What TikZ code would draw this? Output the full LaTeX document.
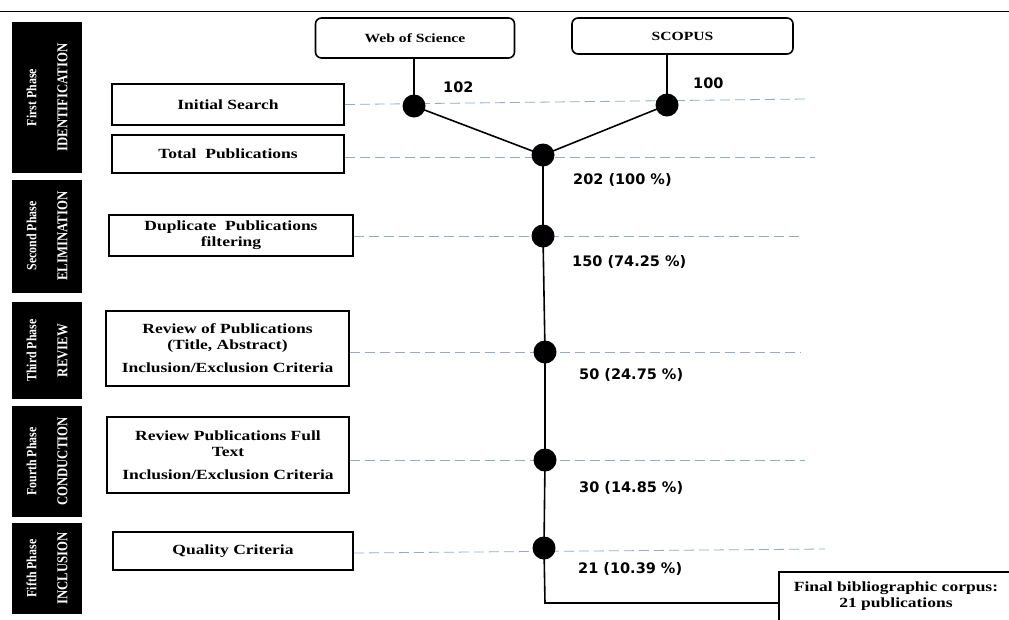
\documentclass[tikz,border=0pt]{standalone}
\usepackage{fontspec}
\setmainfont{Liberation Serif}
\newfontfamily\tb[FakeStretch=1.25]{Liberation Serif}
\newfontfamily\ph[FakeStretch=0.85]{Liberation Serif}
\newfontfamily\nf{DejaVu Sans}
\definecolor{dashcol}{RGB}{150,170,195}
\begin{document}
\begin{tikzpicture}[x=1pt,y=-1pt,
  lbox/.style={draw, line width=1.6pt, inner sep=0pt, font=\tb\bfseries\fontsize{14}{18}\selectfont, align=center},
  dbox/.style={draw, line width=1.6pt, rounded corners=6pt, inner sep=0pt, font=\tb\bfseries\fontsize{12.5}{15}\selectfont},
  pbox/.style={fill=black, inner sep=0pt, minimum width=70pt},
  ptxt/.style={text=white, rotate=90, inner sep=0pt, font=\ph\bfseries\fontsize{14}{16}\selectfont},
  ptxtb/.style={text=white, rotate=90, inner sep=0pt, font=\ph\bfseries\fontsize{15}{17}\selectfont},
  dot/.style={circle, fill=black, inner sep=0pt, minimum size=23pt},
  num/.style={anchor=west, inner sep=0pt, font=\nf\bfseries\fontsize{14.5}{17}\selectfont},
  conn/.style={line width=1.6pt},
  dsh/.style={dashcol, line width=0.8pt, dash pattern=on 10pt off 5pt}]
\clip (0,0) rectangle (1009,619);
\fill[white] (0,0) rectangle (1009,619);
\useasboundingbox (0,0) rectangle (1009,619);
% top rule
\coordinate (tl) at (0,11);
\coordinate (tr) at (1009,11);
\draw[line width=1pt] (tl) -- (tr);
% phase boxes
\node[pbox, minimum height=151pt] (p1) at (47,97.5) {};
\node[pbox, minimum height=113pt] (p2) at (47,236) {};
\node[pbox, minimum height=97pt] (p3) at (47,350.5) {};
\node[pbox, minimum height=111pt] (p4) at (47,461.5) {};
\node[pbox, minimum height=91pt] (p5) at (47,568.5) {};
\node[ptxt] (p1a) at ([xshift=-15.5pt]p1.center) {First Phase};
\node[ptxtb] (p1b) at ([xshift=15.5pt]p1.center) {IDENTIFICATION};
\node[ptxt] (p2a) at ([xshift=-15.5pt]p2.center) {Second Phase};
\node[ptxtb] (p2b) at ([xshift=15.5pt]p2.center) {ELIMINATION};
\node[ptxt] (p3a) at ([xshift=-15.5pt]p3.center) {Third Phase};
\node[ptxtb] (p3b) at ([xshift=15.5pt]p3.center) {REVIEW};
\node[ptxt] (p4a) at ([xshift=-15.5pt]p4.center) {Fourth Phase};
\node[ptxtb] (p4b) at ([xshift=15.5pt]p4.center) {CONDUCTION};
\node[ptxt] (p5a) at ([xshift=-15.5pt]p5.center) {Fifth Phase};
\node[ptxtb] (p5b) at ([xshift=15.5pt]p5.center) {INCLUSION};
% left boxes
\node[lbox, minimum width=232pt, minimum height=41pt] (s1) at (228,104.5) {Initial Search};
\node[lbox, minimum width=232pt, minimum height=38pt] (s2) at (228,154) {Total\ \ Publications};
\node[lbox, minimum width=244pt, minimum height=41pt] (s3) at (231,235.5) {Duplicate\ \ Publications\\[-2pt]filtering};
\node[lbox, minimum width=243pt, minimum height=75pt] (s4) at (227.5,348.5) {Review of Publications\\[-2pt](Title, Abstract)\\[5pt]Inclusion/Exclusion Criteria};
\node[lbox, minimum width=242pt, minimum height=76pt] (s5) at (228,455) {Review Publications Full\\[-2pt]Text\\[5pt]Inclusion/Exclusion Criteria};
\node[lbox, minimum width=240pt, minimum height=38pt] (s6) at (233,551) {Quality Criteria};
% databases
\node[dbox, minimum width=199pt, minimum height=40pt] (wos) at (415,38) {Web of Science};
\node[dbox, minimum width=221pt, minimum height=36pt] (sco) at (682.5,36) {SCOPUS};
% dashed guide lines
\coordinate (e1) at (805,99);
\coordinate (e2) at (815,157);
\coordinate (e3) at (800,236);
\coordinate (e4) at (800,352);
\coordinate (e5) at (805,460);
\coordinate (e6) at (825,549);
\draw[dsh] ([yshift=0pt]s1.east) -- (e1);
\draw[dsh] ([yshift=-3pt]s2.east) -- (e2);
\draw[dsh] ([yshift=-0.5pt]s3.east) -- (e3);
\draw[dsh] ([yshift=-3.5pt]s4.east) -- (e4);
\draw[dsh] ([yshift=-5pt]s5.east) -- (e5);
\draw[dsh] ([yshift=-2pt]s6.east) -- (e6);
% dots
\node[dot] (d1) at (414,106) {};
\node[dot] (d2) at (667,105) {};
\node[dot] (d3) at (543,155) {};
\node[dot] (d4) at (543,236) {};
\node[dot] (d5) at (545,352) {};
\node[dot] (d6) at (545,460) {};
\node[dot] (d7) at (544,548) {};
% final box
\node[lbox, anchor=north west, minimum width=260pt, minimum height=70pt, align=center] (fin) at (778,571) {};
\node[inner sep=0pt, font=\tb\bfseries\fontsize{14}{16}\selectfont, align=center] (fint) at (896,596.5) {Final bibliographic corpus:\\21 publications};
\coordinate (corner) at (545,603);
\coordinate (finw) at (778,603);
% connectors
\draw[conn] (wos.south -| d1) -- (d1.center);
\draw[conn] (sco.south -| d2) -- (d2.center);
\draw[conn] (d1.center) -- (d3.center);
\draw[conn] (d2.center) -- (d3.center);
\draw[conn] (d3.center) -- (d4.center) -- (d5.center) -- (d6.center) -- (d7.center) -- (corner) -- (finw);
% labels
\node[num] (n1) at (443,87) {102};
\node[num] (n2) at (693,83) {100};
\node[num] (n3) at (573,180) {202 (100 \%)};
\node[num] (n4) at (572,262) {150 (74.25 \%)};
\node[num] (n5) at (579,375) {50 (24.75 \%)};
\node[num] (n6) at (579,488) {30 (14.85 \%)};
\node[num] (n7) at (578,569) {21 (10.39 \%)};
\end{tikzpicture}
\end{document}
